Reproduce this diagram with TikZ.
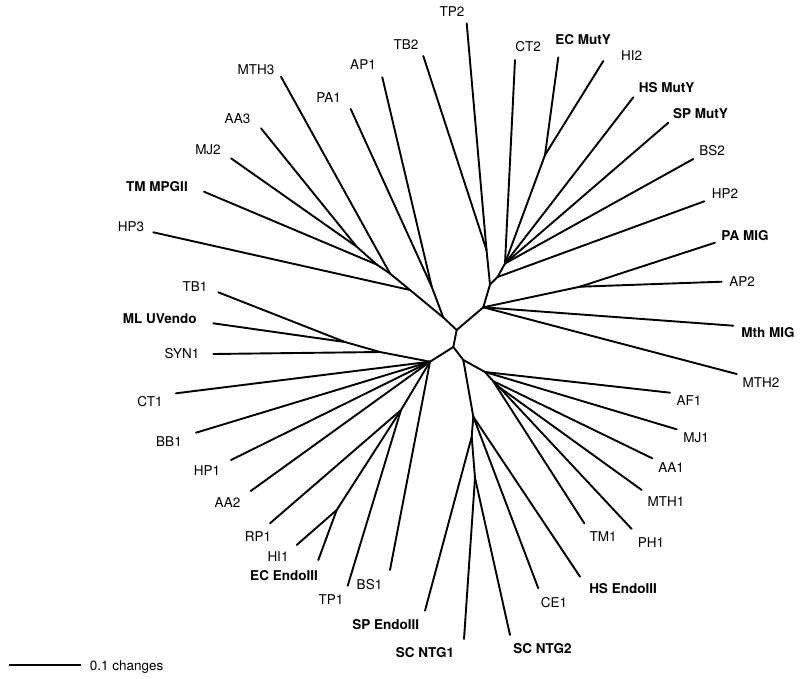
\documentclass[tikz,border=0pt]{standalone}
\usepackage{fontspec}
\setmainfont{TeX Gyre Heros}
\begin{document}
\begin{tikzpicture}[x=1pt,y=-1pt,
  br/.style={line width=1.9pt, line cap=round, line join=round},
  lab/.style={inner sep=0pt, text height=9.7pt, text depth=0pt, font=\fontsize{13.5}{16}\selectfont},
  blab/.style={lab, font=\fontsize{13.5}{16}\selectfont\bfseries}]
\useasboundingbox (0,0) rectangle (800,678);
% internal nodes
\coordinate (C1) at (456.7,330);
\coordinate (C2) at (453.3,347);
\coordinate (R0) at (483.3,307.3);
\coordinate (T1) at (490,284.5);
\coordinate (TT) at (486.5,250);
\coordinate (M0) at (497.5,277);
\coordinate (M1) at (505,263.5);
\coordinate (M2) at (545,155);
\coordinate (PAAP) at (580,286.7);
\coordinate (U1) at (443.3,317.5);
\coordinate (UA) at (431.7,286.7);
\coordinate (U2) at (410,290);
\coordinate (U3) at (390,273.5);
\coordinate (U4) at (376.7,264.5);
\coordinate (U5) at (356.7,246.7);
\coordinate (L0) at (430,361.7);
\coordinate (S1) at (380,352);
\coordinate (S2) at (345,342);
\coordinate (L2) at (401,410);
\coordinate (L3) at (336.7,510);
\coordinate (D0) at (463.3,360);
\coordinate (R1) at (485,372);
\coordinate (R2) at (493,381);
\coordinate (R3) at (499,387);
\coordinate (E1) at (473.3,416.7);
\coordinate (E2) at (471.7,436.7);
\coordinate (E3) at (475,478);
% tips
\coordinate (tTP2) at (466.7,23.3);
\coordinate (tTB2) at (423.3,56);
\coordinate (tCT2) at (515,60);
\coordinate (tECMutY) at (558.3,57.3);
\coordinate (tHI2) at (603.3,61);
\coordinate (tHSMutY) at (633.3,97.3);
\coordinate (tSPMutY) at (668.3,122.7);
\coordinate (tBS2) at (693.3,159);
\coordinate (tHP2) at (704.3,201.3);
\coordinate (tPAMIG) at (715,242.7);
\coordinate (tAP2) at (721.7,281.7);
\coordinate (tMthMIG) at (733.3,325.7);
\coordinate (tMTH2) at (736.7,374);
\coordinate (tAF1) at (670,392.7);
\coordinate (tMJ1) at (676.7,429.3);
\coordinate (tAA1) at (652.3,458.3);
\coordinate (tMTH1) at (641.7,490);
\coordinate (tPH1) at (631.7,529);
\coordinate (tTM1) at (584.3,523.3);
\coordinate (tHSEndo) at (580,576.7);
\coordinate (tCE1) at (538.3,588.3);
\coordinate (tSCNTG2) at (510,635);
\coordinate (tSCNTG1) at (464,639);
\coordinate (tSPEndo) at (425,610.7);
\coordinate (tBS1) at (390,570);
\coordinate (tTP1) at (347.7,585.7);
\coordinate (tECEndo) at (318.3,560);
\coordinate (tHI1) at (296.7,545);
\coordinate (tRP1) at (270,523.3);
\coordinate (tAA2) at (250.7,491);
\coordinate (tHP1) at (231,460);
\coordinate (tBB1) at (196,432.7);
\coordinate (tCT1) at (176,393.3);
\coordinate (tSYN1) at (213.3,354);
\coordinate (tMLUV) at (213.3,323.3);
\coordinate (tTB1) at (218.3,292.3);
\coordinate (tHP3) at (153.3,232.3);
\coordinate (tTMMPG) at (204,191.7);
\coordinate (tMJ2) at (231,158.3);
\coordinate (tAA3) at (261,128.3);
\coordinate (tMTH3) at (281,76.7);
\coordinate (tPA1) at (350.7,109);
\coordinate (tAP1) at (382.3,77.3);
% labels
\node[lab] (lTP2) at (452,11.5) {TP2};
\node[lab] (lTB2) at (406,45) {TB2};
\node[lab] (lCT2) at (528,47) {CT2};
\node[blab] (lECMutY) at (583,40) {EC MutY};
\node[lab] (lHI2) at (631.7,55.3) {HI2};
\node[blab] (lHSMutY) at (666.7,87.5) {HS MutY};
\node[blab] (lSPMutY) at (700.5,114) {SP MutY};
\node[lab] (lBS2) at (712,150.5) {BS2};
\node[lab] (lHP2) at (725,194) {HP2};
\node[blab] (lPAMIG) at (745,236) {PA MIG};
\node[lab] (lAP2) at (742,282) {AP2};
\node[blab] (lMthMIG) at (768,333) {Mth MIG};
\node[lab] (lMTH2) at (761,382.5) {MTH2};
\node[lab] (lAF1) at (689,401) {AF1};
\node[lab] (lMJ1) at (696,438) {MJ1};
\node[lab] (lAA1) at (671,468) {AA1};
\node[lab] (lMTH1) at (666,502) {MTH1};
\node[lab] (lPH1) at (651,542.5) {PH1};
\node[lab] (lTM1) at (603,537) {TM1};
\node[blab] (lHSEndo) at (623,589) {HS EndoIII};
\node[lab] (lCE1) at (554,603) {CE1};
\node[blab] (lSCNTG2) at (542.5,649) {SC NTG2};
\node[blab] (lSCNTG1) at (425,653) {SC NTG1};
\node[blab] (lSPEndo) at (385.7,625) {SP EndoIII};
\node[lab] (lBS1) at (369.5,585) {BS1};
\node[lab] (lTP1) at (331,600) {TP1};
\node[blab] (lECEndo) at (284,576) {EC EndoIII};
\node[lab] (lHI1) at (278,557) {HI1};
\node[lab] (lRP1) at (258,537) {RP1};
\node[lab] (lAA2) at (227.5,502.5) {AA2};
\node[lab] (lHP1) at (207,471) {HP1};
\node[lab] (lBB1) at (169,442) {BB1};
\node[lab] (lCT1) at (150,401.7) {CT1};
\node[lab] (lSYN1) at (182,353.3) {SYN1};
\node[blab] (lMLUV) at (159.7,318.3) {ML UVendo};
\node[lab] (lTB1) at (195,287) {TB1};
\node[lab] (lHP3) at (131,227) {HP3};
\node[blab] (lTMMPG) at (157,187) {TM MPGII};
\node[lab] (lMJ2) at (208,150) {MJ2};
\node[lab] (lAA3) at (237.5,119) {AA3};
\node[lab] (lMTH3) at (256,70) {MTH3};
\node[lab] (lPA1) at (328.7,98) {PA1};
\node[lab] (lAP1) at (363,65) {AP1};
% edges
\draw[br] (C1) -- (C2);
\draw[br] (C1) -- (R0);
\draw[br] (C1) -- (U1);
\draw[br] (R0) -- (T1);
\draw[br] (R0) -- (PAAP);
\draw[br] (R0) -- (tMthMIG);
\draw[br] (R0) -- (tMTH2);
\draw[br] (PAAP) -- (tPAMIG);
\draw[br] (PAAP) -- (tAP2);
\draw[br] (T1) -- (TT);
\draw[br] (T1) -- (M0);
\draw[br] (TT) -- (tTP2);
\draw[br] (TT) -- (tTB2);
\draw[br] (M0) -- (M1);
\draw[br] (M0) -- (tHP2);
\draw[br] (M1) -- (tCT2);
\draw[br] (M1) -- (M2);
\draw[br] (M1) -- (tHSMutY);
\draw[br] (M1) -- (tSPMutY);
\draw[br] (M1) -- (tBS2);
\draw[br] (M2) -- (tECMutY);
\draw[br] (M2) -- (tHI2);
\draw[br] (U1) -- (UA);
\draw[br] (U1) -- (U2);
\draw[br] (UA) -- (tPA1);
\draw[br] (UA) -- (tAP1);
\draw[br] (U2) -- (tHP3);
\draw[br] (U2) -- (U3);
\draw[br] (U3) -- (tMTH3);
\draw[br] (U3) -- (U4);
\draw[br] (U4) -- (tTMMPG);
\draw[br] (U4) -- (U5);
\draw[br] (U5) -- (tAA3);
\draw[br] (U5) -- (tMJ2);
\draw[br] (C2) -- (L0);
\draw[br] (C2) -- (D0);
\draw[br] (L0) -- (S1);
\draw[br] (L0) -- (tCT1);
\draw[br] (L0) -- (tBB1);
\draw[br] (L0) -- (tHP1);
\draw[br] (L0) -- (tAA2);
\draw[br] (L0) -- (L2);
\draw[br] (L0) -- (tBS1);
\draw[br] (S1) -- (tSYN1);
\draw[br] (S1) -- (S2);
\draw[br] (S2) -- (tTB1);
\draw[br] (S2) -- (tMLUV);
\draw[br] (L2) -- (tRP1);
\draw[br] (L2) -- (tTP1);
\draw[br] (L2) -- (L3);
\draw[br] (L3) -- (tHI1);
\draw[br] (L3) -- (tECEndo);
\draw[br] (D0) -- (R1);
\draw[br] (D0) -- (E1);
\draw[br] (R1) -- (tAF1);
\draw[br] (R1) -- (tMJ1);
\draw[br] (R1) -- (R2);
\draw[br] (R2) -- (tAA1);
\draw[br] (R2) -- (tTM1);
\draw[br] (R2) -- (R3);
\draw[br] (R3) -- (tMTH1);
\draw[br] (R3) -- (tPH1);
\draw[br] (E1) -- (tHSEndo);
\draw[br] (E1) -- (tCE1);
\draw[br] (E1) -- (E2);
\draw[br] (E2) -- (tSPEndo);
\draw[br] (E2) -- (E3);
\draw[br] (E3) -- (tSCNTG1);
\draw[br] (E3) -- (tSCNTG2);
% scale bar
\coordinate (sbA) at (9.3,665);
\coordinate (sbB) at (81,665);
\draw[line width=1.8pt] (sbA) -- (sbB);
\node[lab] (lscale) at (126.7,666) {0.1 changes};
\end{tikzpicture}
\end{document}
